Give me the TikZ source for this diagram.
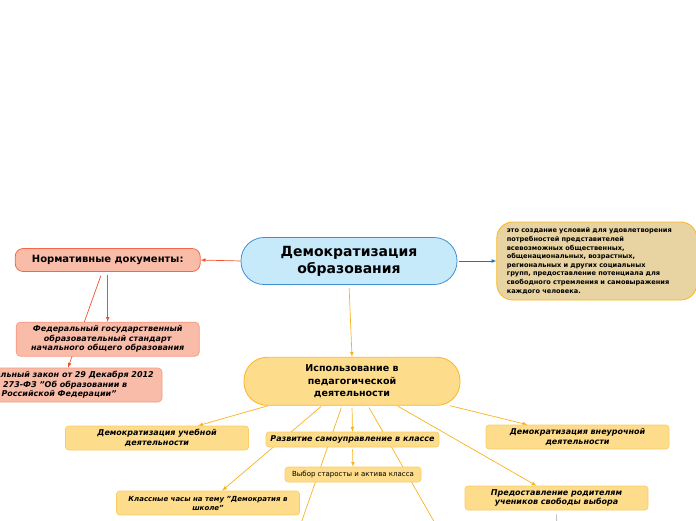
\documentclass[tikz,border=0pt]{standalone}
\usepackage{fontspec}
\setmainfont{DejaVu Sans}
\usepackage{tikz}
\usetikzlibrary{positioning,backgrounds}
\usepackage{xcolor}

\definecolor{hubFill}{HTML}{C7EAFB}
\definecolor{hubLine}{HTML}{3E90D4}
\definecolor{docFill}{HTML}{F9BCA9}
\definecolor{docLine}{HTML}{F36A4A}
\definecolor{docLineLight}{HTML}{F7977E}
\definecolor{useFill}{HTML}{FDDC8C}
\definecolor{useLine}{HTML}{F9B72A}
\definecolor{useLineLight}{HTML}{FBCD62}
\definecolor{defFill}{HTML}{E8D3A2}
\definecolor{defLine}{HTML}{F8B81E}
\definecolor{redLink}{HTML}{F0512D}
\definecolor{blueLink}{HTML}{1F6FD0}
\definecolor{yellowLink}{HTML}{F9B21E}

\begin{document}
\begin{tikzpicture}[
        x=1pt, y=-1pt,
        hub/.style={rectangle, draw=hubLine, fill=hubFill, line width=0.8pt, rounded corners=23pt, minimum width=216pt, minimum height=47pt, align=center, font=\bfseries\fontsize{14}{17}\selectfont},
        topic/.style={rectangle, draw=useLine, fill=useFill, line width=0.8pt, rounded corners=23pt, minimum width=216pt, minimum height=48pt, align=center, font=\bfseries\fontsize{9.5}{12.5}\selectfont},
        doc/.style={rectangle, draw=docLine, fill=docFill, line width=0.8pt, rounded corners=8pt, minimum width=185pt, minimum height=23pt, align=center, font=\bfseries\fontsize{10}{12}\selectfont},
        docitem/.style={rectangle, draw=docLineLight, fill=docFill, line width=0.6pt, rounded corners=4pt, minimum width=183pt, minimum height=34pt, align=center, font=\bfseries\itshape\fontsize{8}{9.5}\selectfont},
        defbox/.style={rectangle, draw=defLine, fill=defFill, line width=0.8pt, rounded corners=16pt, minimum width=200pt, minimum height=78pt, text width=180pt, align=left, font=\bfseries\fontsize{6.6}{8.6}\selectfont},
        item/.style={rectangle, draw=useLineLight, fill=useFill, line width=0.6pt, rounded corners=3pt, minimum width=183pt, minimum height=24pt, align=center, font=\bfseries\itshape\fontsize{8}{9.5}\selectfont},
        redArrow/.style={-latex, draw=redLink, line width=0.7pt},
        blueArrow/.style={-latex, draw=blueLink, line width=0.7pt},
        yellowArrow/.style={-latex, draw=yellowLink, line width=0.7pt},
        yellowLine/.style={draw=yellowLink, line width=0.7pt},
        greyLine/.style={draw=black!35, line width=0.6pt}
    ]
    \useasboundingbox (0,0) rectangle (696,520);
    \clip (0,0) rectangle (696,520);

    % Nodes
    \node[hub] (hub) at (349,261) {Демократизация\\образования};
    \node[doc, left=40pt of hub, yshift=1pt] (norm) {Нормативные документы:};
    \node[defbox, right=39pt of hub] (def) {это создание условий для удовлетворения\\потребностей представителей\\всевозможных общественных,\\общенациональных, возрастных,\\региональных и других социальных\\групп, предоставление потенциала для\\свободного стремления и самовыражения\\каждого человека.};
    \node[docitem, below=50pt of norm] (fgos) {Федеральный государственный\\образовательный стандарт\\начального общего образования};
    \node[docitem, minimum width=206pt] (law) at (59,385) {Федеральный закон от 29 Декабря 2012\\№ 273-ФЗ "Об образовании в\\Российской Федерации"};

    \node[topic, below=72pt of hub, xshift=3pt] (use) {Использование в\\педагогической\\деятельности};
    \node[item] (edu) at (157,438) {Демократизация учебной\\деятельности};
    \node[item, minimum width=173pt, minimum height=15pt] (self) at (352.5,439.5) {Развитие самоуправление в классе};
    \node[item, minimum width=136pt, minimum height=15pt, font=\fontsize{7}{8}\selectfont] (choice) at (353,474.5) {Выбор старосты и актива класса};
    \node[item, font=\bfseries\itshape\fontsize{7}{9}\selectfont] (cls) at (208,503) {Классные часы на тему "Демократия в\\школе"};
    \node[item] (extra) at (577.5,437) {Демократизация внеурочной\\деятельности};
    \node[item] (parents) at (556.5,498) {Предоставление родителям\\учеников свободы выбора};

    \coordinate (offA) at (298,532);
    \coordinate (offB) at (440,532);
    \coordinate (offC) at (557,532);

    % Arrows
    \begin{scope}[on background layer]
    \draw[redArrow] (hub.west) -- (norm.east);
    \draw[blueArrow, shorten <=2pt] (hub.east) -- (def.west);
    \draw[yellowArrow, shorten <=3pt] (hub.south) -- (use.north);
    \draw[redArrow, shorten <=3pt] (norm.south) -- (fgos.north);
    \draw[redArrow, shorten <=4pt] ([xshift=-5.5pt]norm.south) -- ([xshift=9pt]law.north);

    \draw[yellowArrow] ([xshift=-84pt]use.south) -- ([xshift=41pt]edu.north);
    \draw[yellowArrow, shorten <=1pt] ([xshift=-30pt]use.south) -- ([xshift=14pt]cls.north);
    \draw[yellowLine, shorten <=2pt] ([xshift=-10pt]use.south) -- (offA);
    \draw[yellowArrow, shorten <=2pt] (use.south) -- (self.north);
    \draw[yellowLine, shorten <=2pt] ([xshift=16pt]use.south) -- (offB);
    \draw[yellowArrow, shorten <=1pt] ([xshift=45pt]use.south) -- ([xshift=-20pt]parents.north);
    \draw[yellowArrow] ([xshift=98pt]use.south) -- ([xshift=-50pt]extra.north);
    \draw[yellowArrow, shorten <=2pt] (self.south) -- (choice.north);
    \draw[greyLine, shorten <=4pt] (parents.south) -- (offC);
    \end{scope}

\end{tikzpicture}
\end{document}
